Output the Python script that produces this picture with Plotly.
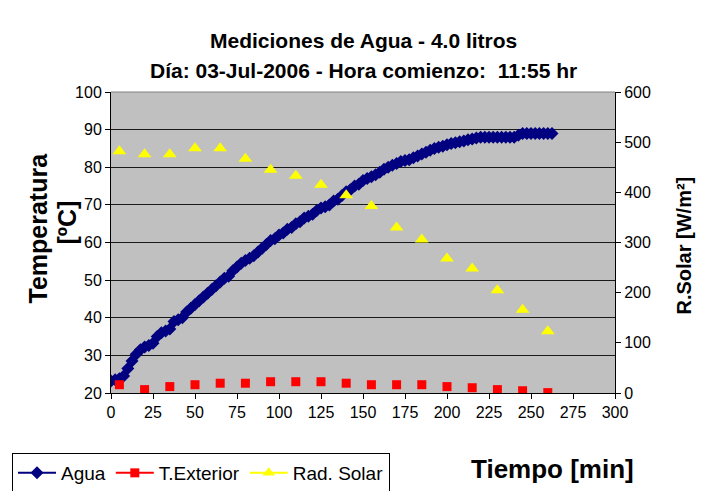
import plotly.graph_objects as go

# ---- data ----
tiempo_agua = [0, 2.5, 5, 7.5, 10, 12.5, 15, 17.5, 20, 22.5, 25, 27.5, 30, 32.5, 35, 37.5, 40, 42.5, 45, 47.5,
               50, 52.5, 55, 57.5, 60, 62.5, 65, 67.5, 70, 72.5, 75, 77.5, 80, 82.5, 85, 87.5, 90, 92.5, 95, 97.5,
               100, 102.5, 105, 107.5, 110, 112.5, 115, 117.5, 120, 122.5, 125, 127.5, 130, 132.5, 135, 137.5,
               140, 142.5, 145, 147.5, 150, 152.5, 155, 157.5, 160, 162.5, 165, 167.5, 170, 172.5, 175, 177.5,
               180, 182.5, 185, 187.5, 190, 192.5, 195, 197.5, 200, 202.5, 205, 207.5, 210, 212.5, 215, 217.5,
               220, 222.5, 225, 227.5, 230, 232.5, 235, 237.5, 240, 242.5, 245, 247.5, 250, 252.5, 255, 257.5,
               260, 262.5]
temp_agua = [23.2, 23.5, 23.8, 24.5, 26.5, 28.5, 30.3, 31.5, 32.2, 32.6, 33.2, 35.0, 36.0, 36.5, 37.0, 39.0, 39.5, 40.0, 41.5, 42.5,
             43.5, 44.5, 45.5, 46.5, 47.5, 48.5, 49.5, 50.5, 51.0, 52.5, 53.5, 54.5, 55.2, 55.8, 56.5, 57.5, 58.5, 59.5, 60.5, 61.0,
             62.0, 62.5, 63.5, 64.0, 65.0, 65.5, 66.5, 67.0, 67.5, 68.5, 69.2, 69.5, 70.0, 71.0, 71.5, 72.5,
             73.5, 74.0, 75.0, 75.5, 76.5, 77.0, 77.5, 78.0, 78.7, 79.5, 80.0, 80.5, 81.0, 81.5, 81.8, 82.0,
             82.5, 83.0, 83.5, 84.0, 84.5, 85.0, 85.3, 85.6, 86.0, 86.3, 86.5, 86.8, 87.0, 87.3, 87.5, 87.8,
             88.0, 88.0, 88.0, 88.0, 88.0, 88.0, 88.0, 88.0, 88.0, 88.5, 89.0, 89.0, 89.0, 89.0, 89.0, 89.0,
             89.0, 89.0]

tiempo_15 = [5, 20, 35, 50, 65, 80, 95, 110, 125, 140, 155, 170, 185, 200, 215, 230, 245, 260]
temp_exterior = [22.2, 20.9, 21.7, 22.2, 22.6, 22.6, 23.0, 23.0, 23.0, 22.6, 22.2, 22.2, 22.2, 21.7, 21.4, 20.9, 20.6, 20.1]
rad_solar = [482, 476, 476, 488, 488, 467, 445, 433, 415, 394, 373, 330, 306, 268, 248, 205, 166, 123]

x_ticks = [0, 25, 50, 75, 100, 125, 150, 175, 200, 225, 250, 275, 300]
y_ticks = [20, 30, 40, 50, 60, 70, 80, 90, 100]
y2_ticks = [0, 100, 200, 300, 400, 500, 600]

FONT = "Liberation Sans, Arial, sans-serif"
NAVY = "#000080"
RED = "#FF0000"
YEL = "#FFFF00"

fig = go.Figure()

fig.add_trace(go.Scatter(x=tiempo_agua, y=temp_agua, mode="lines+markers", name="Agua",
                         line=dict(color=NAVY, width=2),
                         marker=dict(symbol="diamond", size=10, color=NAVY), showlegend=True))
fig.add_trace(go.Scatter(x=tiempo_15, y=temp_exterior, mode="markers", name="T.Exterior",
                         marker=dict(symbol="square", size=9, color=RED), showlegend=False))
fig.add_trace(go.Scatter(x=tiempo_15, y=rad_solar, mode="markers", name="Rad. Solar", yaxis="y2",
                         marker=dict(symbol="triangle-up", size=12, color=YEL), showlegend=False))
# legend entries (line + marker like the original legend)
fig.add_trace(go.Scatter(x=[None], y=[None], mode="lines+markers", name="T.Exterior",
                         line=dict(color=RED, width=2), marker=dict(symbol="square", size=9, color=RED)))
fig.add_trace(go.Scatter(x=[None], y=[None], mode="lines+markers", name="Rad. Solar",
                         line=dict(color=YEL, width=2), marker=dict(symbol="triangle-up", size=11, color=YEL)))

fig.update_layout(
    width=701, height=491, autosize=False,
    margin=dict(l=111, r=86, t=92, b=98, pad=0, autoexpand=False),
    paper_bgcolor="white", plot_bgcolor="#C0C0C0",
    font=dict(family=FONT, color="black", size=16),
    xaxis=dict(range=[0, 300], tickvals=x_ticks, ticks="outside", ticklen=5, tickcolor="black",
               showgrid=False, zeroline=False, showline=True, linecolor="black", linewidth=1,
               tickfont=dict(size=16, family=FONT), automargin=False),
    yaxis=dict(range=[20, 100], tickvals=y_ticks, ticks="outside", ticklen=5, tickcolor="black",
               showgrid=True, gridcolor="#1a1a1a", gridwidth=1, zeroline=False,
               showline=True, linecolor="black", linewidth=1, tickfont=dict(size=16, family=FONT),
               automargin=False),
    yaxis2=dict(range=[0, 600], tickvals=y2_ticks, ticks="outside", ticklen=5, tickcolor="black",
                overlaying="y", side="right", showgrid=False, zeroline=False,
                showline=True, linecolor="black", linewidth=1, tickfont=dict(size=16, family=FONT),
                automargin=False),
    legend=dict(orientation="h", xref="container", yref="container",
                x=12 / 701, y=1 - 453 / 491, xanchor="left", yanchor="top",
                bgcolor="white", bordercolor="black", borderwidth=1,
                font=dict(size=19, family=FONT), itemwidth=38, tracegroupgap=0),
    showlegend=True,
)

# top border of plot area
fig.add_shape(type="line", xref="paper", yref="paper", x0=0, x1=1, y0=1, y1=1,
              line=dict(color="#808080", width=1))

ann = dict(showarrow=False)
fig.add_annotation(text="<b>Mediciones de Agua - 4.0 litros</b>", xref="paper", yref="paper",
                   x=0.5, y=(392.5 - 40) / 301, xanchor="center", yanchor="middle",
                   font=dict(family=FONT, size=21, color="black"), **ann)
fig.add_annotation(text="<b>Día: 03-Jul-2006 - Hora comienzo:  11:55 hr</b>", xref="paper", yref="paper",
                   x=0.5, y=(392.5 - 70) / 301, xanchor="center", yanchor="middle",
                   font=dict(family=FONT, size=21, color="black"), **ann)
fig.add_annotation(text="<b>Temperatura</b>", xref="paper", yref="paper", textangle=-90,
                   x=(37 - 111) / 504, y=(392.5 - 228) / 301, xanchor="center", yanchor="middle",
                   font=dict(family=FONT, size=25, color="black"), **ann)
fig.add_annotation(text="<b>[ºC]</b>", xref="paper", yref="paper", textangle=-90,
                   x=(66 - 111) / 504, y=(392.5 - 222) / 301, xanchor="center", yanchor="middle",
                   font=dict(family=FONT, size=25, color="black"), **ann)
fig.add_annotation(text="<b>R.Solar [W/m²]</b>", xref="paper", yref="paper", textangle=-90,
                   x=(683 - 111) / 504, y=(392.5 - 245) / 301, xanchor="center", yanchor="middle",
                   font=dict(family=FONT, size=20, color="black"), **ann)
fig.add_annotation(text="<b>Tiempo [min]</b>", xref="paper", yref="paper",
                   x=(552 - 111) / 504, y=(392.5 - 468) / 301, xanchor="center", yanchor="middle",
                   font=dict(family=FONT, size=26, color="black"), **ann)

fig.write_html("out.html", config={"displayModeBar": False},
               post_script="document.body.style.margin='0px';")
